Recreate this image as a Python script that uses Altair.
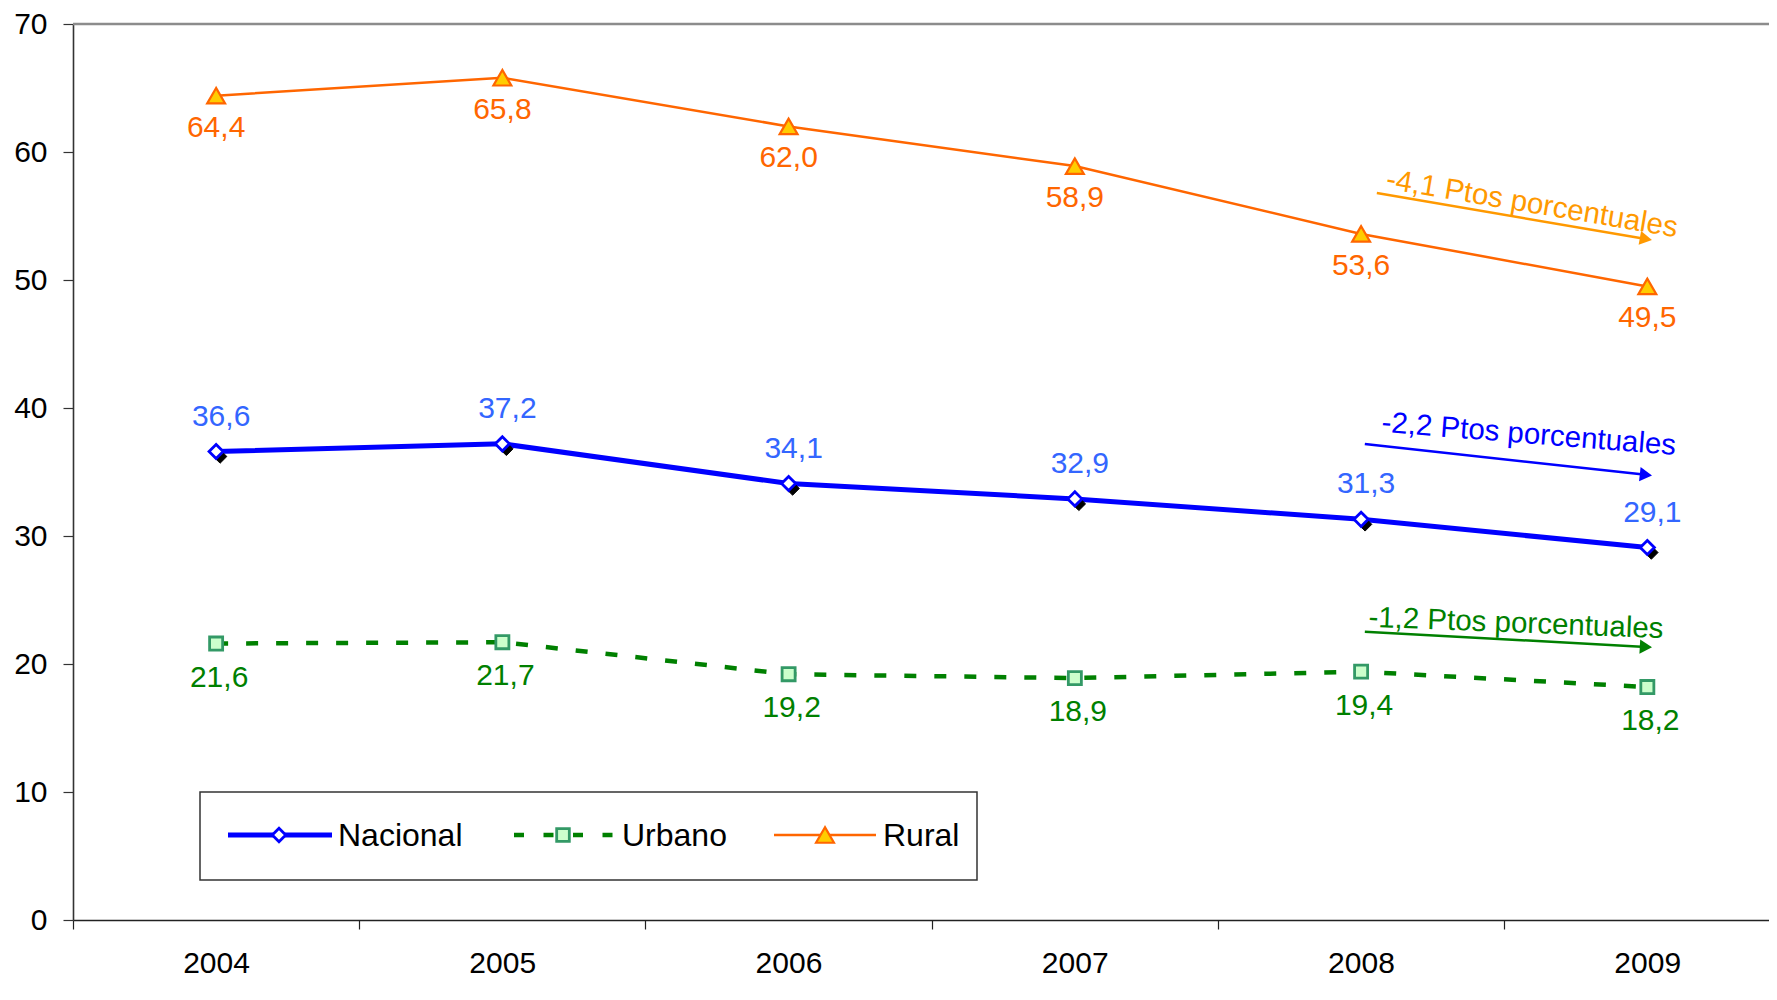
import altair as alt
import pandas as pd

# ---------------- data ----------------
years = [2004, 2005, 2006, 2007, 2008, 2009]
nacional = [36.6, 37.2, 34.1, 32.9, 31.3, 29.1]
urbano = [21.6, 21.7, 19.2, 18.9, 19.4, 18.2]
rural = [64.4, 65.8, 62.0, 58.9, 53.6, 49.5]

y_ticks = [0, 10, 20, 30, 40, 50, 60, 70]
x_boundaries = [2003.5, 2004.5, 2005.5, 2006.5, 2007.5, 2008.5]

# annotation arrows (data coordinates)
ann_text = ["-4,1 Ptos porcentuales", "-2,2 Ptos porcentuales", "-1,2 Ptos porcentuales"]
ann_x0 = [2008.055, 2008.013, 2008.013]
ann_y0 = [56.79, 37.18, 22.52]
ann_x1 = [2008.995, 2008.995, 2008.995]
ann_y1 = [53.21, 34.78, 21.33]
ann_tx = [2008.597, 2008.586, 2008.541]
ann_ty = [55.95, 37.94, 23.17]

legend_names = ["Nacional", "Urbano", "Rural"]

# ---------------- helpers ----------------
def fmt(v):
    return f"{v:.1f}".replace(".", ",")


def series_df(vals):
    return pd.DataFrame({"year": years, "value": vals, "label": [fmt(v) for v in vals]})


W, H = 1696, 896

x_scale = alt.Scale(domain=[2003.5, 2009.425], nice=False, zero=False)
y_scale = alt.Scale(domain=[0, 70], nice=False, zero=True)

x_axis = alt.Axis(
    values=x_boundaries,
    labelExpr="format(datum.value + 0.5, 'd')",
    labelOffset=143,
    labelFlush=False,
    labelOverlap=False,
    labelBound=False,
    tickSize=9,
    tickWidth=1.2,
    tickColor="#222222",
    domainColor="#222222",
    domainWidth=1.6,
    labelPadding=19,
    labelFontSize=30,
    labelColor="black",
    grid=False,
    title=None,
)
y_axis = alt.Axis(
    values=y_ticks,
    tickSize=10,
    tickWidth=1.2,
    tickColor="#333333",
    domainColor="#333333",
    domainWidth=1.6,
    labelPadding=16,
    labelFontSize=30,
    labelColor="black",
    grid=False,
    title=None,
)


def X(field):
    return alt.X(field, type="quantitative", scale=x_scale, axis=x_axis)


def Y(field):
    return alt.Y(field, type="quantitative", scale=y_scale, axis=y_axis)


nac_df = series_df(nacional)
urb_df = series_df(urbano)
rur_df = series_df(rural)

layers = []

# top border line at 70
layers.append(
    alt.Chart(pd.DataFrame({"value": [70]}))
    .mark_rule(color="#8c8c8c", strokeWidth=2.5)
    .encode(y=Y("value"))
)

LABEL_FS = 30

# ---------------- Rural ----------------
layers.append(alt.Chart(rur_df).mark_line(color="#FF6600", strokeWidth=2.5).encode(x=X("year"), y=Y("value")))
layers.append(
    alt.Chart(rur_df)
    .mark_point(shape="triangle-up", filled=True, fill="#FFCC00", stroke="#FF6600", strokeWidth=2.2, size=320, opacity=1)
    .encode(x=X("year"), y=Y("value"))
)
layers.append(
    alt.Chart(rur_df)
    .mark_text(color="#FF6600", fontSize=LABEL_FS, dy=32, baseline="middle")
    .encode(x=X("year"), y=Y("value"), text="label:N")
)

# ---------------- Nacional ----------------
layers.append(alt.Chart(nac_df).mark_line(color="#0000FF", strokeWidth=5).encode(x=X("year"), y=Y("value")))
layers.append(
    alt.Chart(nac_df)
    .mark_point(shape="diamond", filled=True, fill="black", stroke="black", strokeWidth=1, size=180, xOffset=4, yOffset=5, opacity=1)
    .encode(x=X("year"), y=Y("value"))
)
layers.append(
    alt.Chart(nac_df)
    .mark_point(shape="diamond", filled=True, fill="white", stroke="#0000FF", strokeWidth=2.8, size=200, opacity=1)
    .encode(x=X("year"), y=Y("value"))
)
layers.append(
    alt.Chart(nac_df)
    .mark_text(color="#3366FF", fontSize=LABEL_FS, dx=5, dy=-35, baseline="middle")
    .encode(x=X("year"), y=Y("value"), text="label:N")
)

# ---------------- Urbano ----------------
layers.append(
    alt.Chart(urb_df)
    .mark_line(color="#008000", strokeWidth=4.5, strokeDash=[12, 18])
    .encode(x=X("year"), y=Y("value"))
)
layers.append(
    alt.Chart(urb_df)
    .mark_point(shape="square", filled=True, fill="#CCFFCC", stroke="#339966", strokeWidth=2.8, size=170, opacity=1)
    .encode(x=X("year"), y=Y("value"))
)
layers.append(
    alt.Chart(urb_df)
    .mark_text(color="#008000", fontSize=LABEL_FS, dx=3, dy=34, baseline="middle")
    .encode(x=X("year"), y=Y("value"), text="label:N")
)

# ---------------- annotation arrows ----------------
ann_colors = ["#FF9900", "#0000FF", "#008000"]
ann_head_angle = [10, 6.4, 3.2]
ann_text_angle = [9.5, 4.5, 2.2]
for i in range(3):
    seg = pd.DataFrame({"x0": [ann_x0[i]], "y0": [ann_y0[i]], "x1": [ann_x1[i]], "y1": [ann_y1[i]],
                        "tx": [ann_tx[i]], "ty": [ann_ty[i]], "t": [ann_text[i]]})
    layers.append(
        alt.Chart(seg).mark_rule(color=ann_colors[i], strokeWidth=2.5)
        .encode(x=X("x0"), x2="x1:Q", y=Y("y0"), y2="y1:Q")
    )
    layers.append(
        alt.Chart(seg).mark_point(shape="triangle-right", filled=True, color=ann_colors[i], size=200,
                                  angle=ann_head_angle[i], opacity=1)
        .encode(x=X("x1"), y=Y("y1"))
    )
    layers.append(
        alt.Chart(seg).mark_text(color=ann_colors[i], fontSize=29.5, angle=ann_text_angle[i],
                                 align="center", baseline="middle")
        .encode(x=X("tx"), y=Y("ty"), text="t:N")
    )

# ---------------- legend ----------------
one = pd.DataFrame({"a": [0]})
LY = 811
layers.append(
    alt.Chart(one).mark_rect(fill="white", stroke="#333333", strokeWidth=1.5)
    .encode(x=alt.value(127), x2=alt.value(904), y=alt.value(768), y2=alt.value(856))
)
# Nacional
layers.append(alt.Chart(one).mark_rule(color="#0000FF", strokeWidth=5)
              .encode(x=alt.value(155), x2=alt.value(259), y=alt.value(LY)))
layers.append(alt.Chart(one).mark_point(shape="diamond", filled=True, fill="white", stroke="#0000FF",
                                        strokeWidth=2.8, size=180, opacity=1)
              .encode(x=alt.value(206), y=alt.value(LY)))
# Urbano
layers.append(alt.Chart(one).mark_rule(color="#008000", strokeWidth=4.5, strokeDash=[10, 19.5])
              .encode(x=alt.value(441), x2=alt.value(540), y=alt.value(LY)))
layers.append(alt.Chart(one).mark_point(shape="square", filled=True, fill="#CCFFCC", stroke="#339966",
                                        strokeWidth=2.8, size=160, opacity=1)
              .encode(x=alt.value(490), y=alt.value(LY)))
# Rural
layers.append(alt.Chart(one).mark_rule(color="#FF6600", strokeWidth=2.5)
              .encode(x=alt.value(701), x2=alt.value(803), y=alt.value(LY)))
layers.append(alt.Chart(one).mark_point(shape="triangle-up", filled=True, fill="#FFCC00", stroke="#FF6600",
                                        strokeWidth=2.2, size=320, opacity=1)
              .encode(x=alt.value(752), y=alt.value(LY)))
legend_x = [265, 549, 810]
for name, lx in zip(legend_names, legend_x):
    layers.append(alt.Chart(one).mark_text(align="left", baseline="middle", fontSize=32, color="black")
                  .encode(x=alt.value(lx), y=alt.value(LY + 1), text=alt.value(name)))

chart = (
    alt.layer(*layers)
    .properties(
        width=W,
        height=H,
        autosize=alt.AutoSizeParams(type="none"),
        padding={"left": 65, "top": 16, "right": 0, "bottom": 60},
        background="white",
    )
    .configure(font="Liberation Sans")
    .configure_view(stroke=None)
)

chart.save("out.html", embed_options={"renderer": "svg", "actions": False})
